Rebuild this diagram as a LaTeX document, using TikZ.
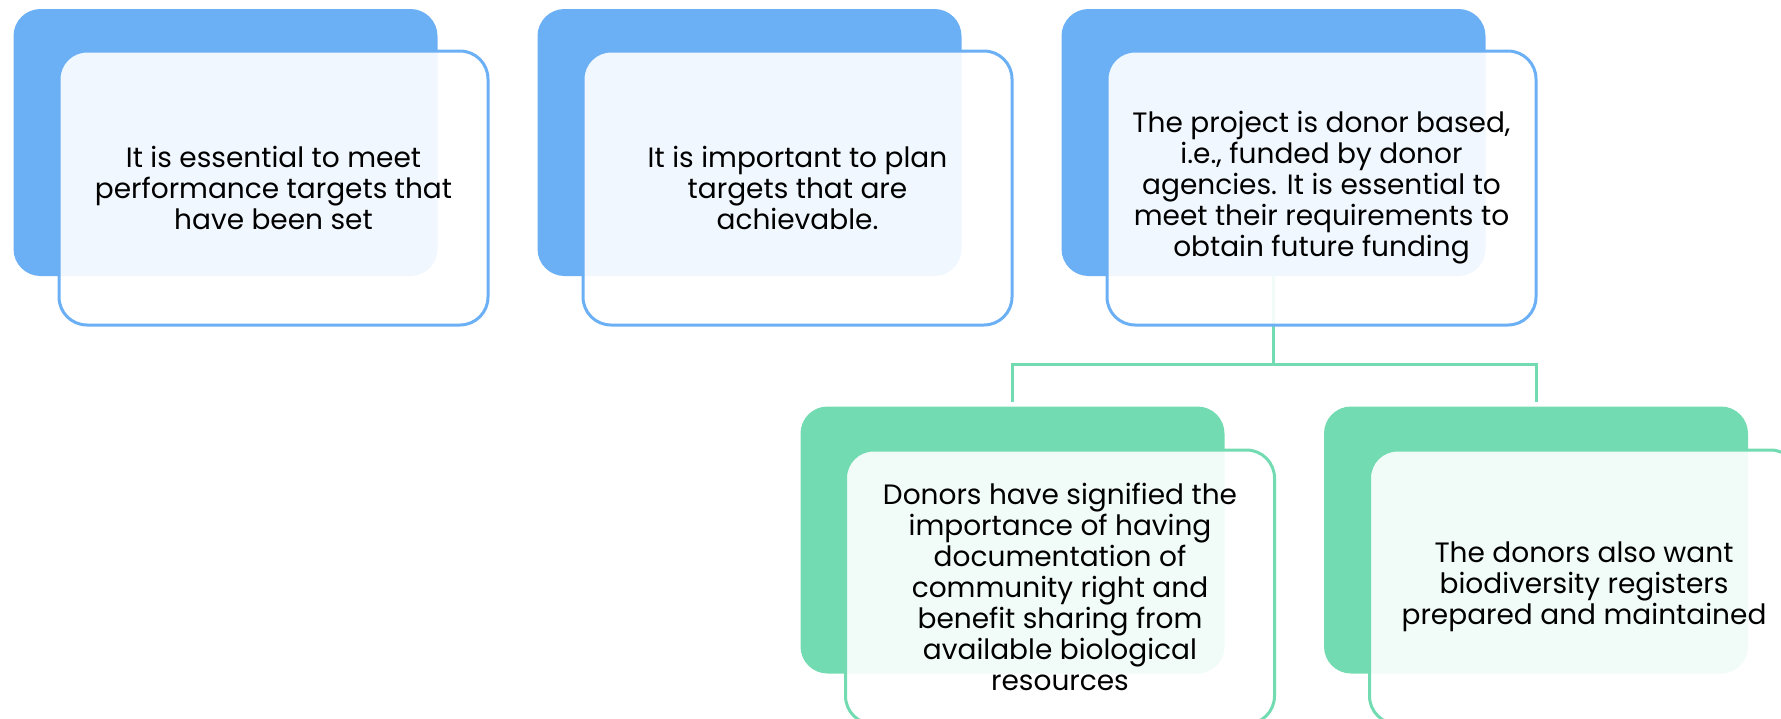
\documentclass[tikz,border=0pt]{standalone}
\usepackage{fontspec}
\setmainfont{Poppins}
\definecolor{cblue}{HTML}{6BB0F5}
\definecolor{cgreen}{HTML}{73DBB2}
\tikzset{
  backbox/.style={draw=none, fill=#1, rounded corners=27pt, minimum width=424pt, minimum height=267pt, inner sep=0pt},
  frontbox/.style={draw=#1, line width=3pt, fill=white, fill opacity=0.9, text opacity=1, rounded corners=28pt,
     minimum width=429pt, minimum height=274pt, inner sep=0pt, align=center,
     font=\fontsize{28}{31}\selectfont},
  link/.style={draw=cgreen, line width=3pt}
}
\begin{document}
\begin{tikzpicture}[x=1pt,y=-1pt]
\useasboundingbox (0,0) rectangle (1781,718);
% back boxes
\node[backbox=cblue] (b1) at (225.5,142.5) {};
\node[backbox=cblue] (b2) at (749.5,142.5) {};
\node[backbox=cblue] (b3) at (1273.5,142.5) {};
\node[backbox=cgreen] (b4) at (1012.5,540) {};
\node[backbox=cgreen] (b5) at (1536,540) {};
% connectors
\coordinate (j) at (1273.5,364);
\coordinate (e4) at (1012.5,402);
\coordinate (e5) at (1536,402);
\draw[link] (b3.south) -- (j);
\draw[link] (e4) |- (j) -| (e5);
% front boxes
\node[frontbox=cblue] (f1) at (273.5,188) {It is essential to meet\\performance targets that\\have been set};
\node[frontbox=cblue] (f2) at (797.5,188) {It is important to plan\\targets that are\\achievable.};
\node[frontbox=cblue] (f3) at (1321.5,188) {The project is donor based,\\i.e., funded by donor\\agencies. It is essential to\\meet their requirements to\\obtain future funding};
\node[frontbox=cgreen] (f4) at (1060,587) {Donors have signified the\\importance of having\\documentation of\\community right and\\benefit sharing from\\available biological\\resources};
\node[frontbox=cgreen] (f5) at (1584,587) {The donors also want\\biodiversity registers\\prepared and maintained};
\end{tikzpicture}
\end{document}
